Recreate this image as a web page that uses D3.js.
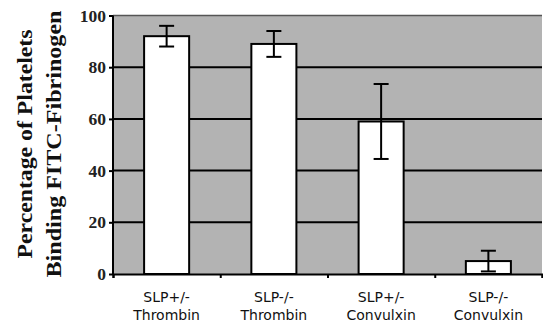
<!DOCTYPE html>
<html>
<head>
<meta charset="utf-8">
<script src="https://cdn.jsdelivr.net/npm/d3@7"></script>
<style>
  body { margin: 0; background: #fff; }
  svg { display: block; }
</style>
</head>
<body>
<div class="chart"></div>
<script>
// data
var groups = ["SLP+/-", "SLP-/-", "SLP+/-", "SLP-/-"];
var agonists = ["Thrombin", "Thrombin", "Convulxin", "Convulxin"];
var means = [92, 89, 59, 5];
var errors = [4, 5, 14.5, 4];
var yTicks = [0, 20, 40, 60, 80, 100];
var titleLines = ["Percentage of Platelets", "Binding FITC-Fibrinogen"];

var svgWidth = 543, svgHeight = 326;
var margin = { top: 15.5, right: 1, bottom: 52, left: 113 };
var width = svgWidth - margin.left - margin.right;
var height = svgHeight - margin.top - margin.bottom;

var svg = d3.select(".chart")
    .append("svg")
    .attr("width", svgWidth)
    .attr("height", svgHeight);

var chartGroup = svg.append("g")
    .attr("transform", `translate(${margin.left}, ${margin.top})`);

var idx = d3.range(means.length);

var xScale = d3.scaleBand()
    .domain(idx)
    .range([0, width])
    .paddingInner(0.58)
    .paddingOuter(0.29);

var xBoundary = d3.scaleLinear()
    .domain([0, idx.length])
    .range([0, width]);

var yScale = d3.scaleLinear()
    .domain([0, 100])
    .range([height, 0]);

// plot background
chartGroup.append("rect")
    .attr("x", 0)
    .attr("y", 0)
    .attr("width", width)
    .attr("height", height)
    .attr("fill", "#b3b3b3");

// gridlines
chartGroup.selectAll(".grid")
    .data(yTicks.filter(d => d > 0))
    .enter()
    .append("line")
    .attr("x1", 0)
    .attr("x2", width)
    .attr("y1", d => yScale(d))
    .attr("y2", d => yScale(d))
    .attr("stroke", d => d === 100 ? "#555" : "#000")
    .attr("stroke-width", d => d === 100 ? 1.5 : 2);

// bars
chartGroup.selectAll(".bar")
    .data(idx)
    .enter()
    .append("rect")
    .attr("x", d => xScale(d))
    .attr("y", d => yScale(means[d]))
    .attr("width", xScale.bandwidth())
    .attr("height", d => height - yScale(means[d]))
    .attr("fill", "#fff")
    .attr("stroke", "#000")
    .attr("stroke-width", 2);

// error bars
var capW = 15;
var errGroup = chartGroup.selectAll(".err")
    .data(idx)
    .enter()
    .append("g")
    .attr("stroke", "#000")
    .attr("stroke-width", 2);

errGroup.append("line")
    .attr("x1", d => xScale(d) + xScale.bandwidth() / 2)
    .attr("x2", d => xScale(d) + xScale.bandwidth() / 2)
    .attr("y1", d => yScale(means[d] + errors[d]))
    .attr("y2", d => yScale(means[d] - errors[d]));

errGroup.append("line")
    .attr("x1", d => xScale(d) + xScale.bandwidth() / 2 - capW / 2)
    .attr("x2", d => xScale(d) + xScale.bandwidth() / 2 + capW / 2)
    .attr("y1", d => yScale(means[d] + errors[d]))
    .attr("y2", d => yScale(means[d] + errors[d]));

errGroup.append("line")
    .attr("x1", d => xScale(d) + xScale.bandwidth() / 2 - capW / 2)
    .attr("x2", d => xScale(d) + xScale.bandwidth() / 2 + capW / 2)
    .attr("y1", d => yScale(means[d] - errors[d]))
    .attr("y2", d => yScale(means[d] - errors[d]));

// y axis
var yAxis = d3.axisLeft(yScale)
    .tickValues(yTicks)
    .tickSize(4)
    .tickPadding(3);

var yAxisG = chartGroup.append("g").call(yAxis);
yAxisG.select(".domain").remove();
yAxisG.selectAll(".tick line").attr("stroke", "#000").attr("stroke-width", 2);
yAxisG.selectAll(".tick text")
    .style("font-family", "'Liberation Serif', 'Times New Roman', serif")
    .style("font-weight", "bold")
    .style("font-size", "17.5px")
    .attr("fill", "#222");

chartGroup.append("line")
    .attr("x1", 0).attr("x2", 0)
    .attr("y1", 0).attr("y2", height + 1)
    .attr("stroke", "#000")
    .attr("stroke-width", 2);

// x axis with ticks at category boundaries
var xAxis = d3.axisBottom(xBoundary)
    .tickValues(d3.range(idx.length + 1))
    .tickSize(4)
    .tickFormat("");

var xAxisG = chartGroup.append("g")
    .attr("transform", `translate(0, ${height})`)
    .call(xAxis);
xAxisG.select(".domain").attr("stroke", "#000").attr("stroke-width", 2);
xAxisG.selectAll(".tick line").attr("stroke", "#000").attr("stroke-width", 2);

// category labels
var labels = chartGroup.selectAll(".xlabel")
    .data(idx)
    .enter()
    .append("text")
    .attr("text-anchor", "middle")
    .attr("font-family", "'DejaVu Sans', Verdana, sans-serif")
    .attr("font-size", "14px")
    .attr("fill", "#111");

labels.append("tspan")
    .attr("x", d => xScale(d) + xScale.bandwidth() / 2)
    .attr("y", height + 27.5)
    .text(d => groups[d]);

labels.append("tspan")
    .attr("x", d => xScale(d) + xScale.bandwidth() / 2)
    .attr("y", height + 45.5)
    .text(d => agonists[d]);

// y axis title
var titleX = [32, 61];
var titleLen = [229, 267];
svg.selectAll(".ytitle")
    .data(titleLines)
    .enter()
    .append("text")
    .attr("transform", (d, i) => `translate(${titleX[i]}, 144) rotate(-90)`)
    .attr("text-anchor", "middle")
    .attr("font-family", "'Liberation Serif', 'Times New Roman', serif")
    .attr("font-weight", "bold")
    .attr("font-size", "22px")
    .attr("fill", "#111")
    .attr("textLength", (d, i) => titleLen[i])
    .attr("lengthAdjust", "spacingAndGlyphs")
    .text(d => d);
</script>
</body>
</html>
